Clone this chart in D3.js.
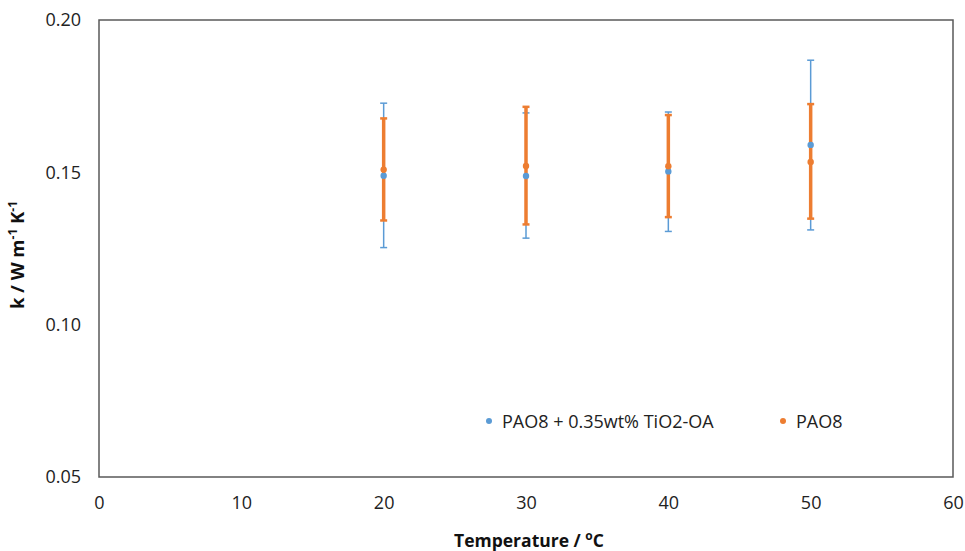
<!DOCTYPE html>
<html><head><meta charset="utf-8">
<script src="https://cdn.jsdelivr.net/npm/d3@7"></script>
<style>body{margin:0;background:#fff}svg{display:block}</style>
</head><body>
<svg id="c" width="965" height="551"></svg>
<script>
const temps = [20, 30, 40, 50];
const seriesNames = ["PAO8 + 0.35wt% TiO2-OA", "PAO8"];
const tioValues = [0.1489, 0.1488, 0.1503, 0.1590];
const tioUpper = [0.1727, 0.1695, 0.1698, 0.1868];
const tioLower = [0.1253, 0.1284, 0.1306, 0.1311];
const paoValues = [0.1509, 0.1521, 0.1520, 0.1534];
const paoUpper = [0.1677, 0.1715, 0.1688, 0.1724];
const paoLower = [0.1342, 0.1329, 0.1353, 0.1348];
const xTicks = [0, 10, 20, 30, 40, 50, 60];
const yTicks = [0.05, 0.10, 0.15, 0.20];

const svg = d3.select("#c");
const L = 99, R = 953, T = 20, B = 477;
const x = d3.scaleLinear().domain([0, 60]).range([L, R]);
const y = d3.scaleLinear().domain([0.05, 0.20]).range([B, T]);
const font = "'Open Sans', sans-serif";

const series = [
  {name: seriesNames[0], v: tioValues, hi: tioUpper, lo: tioLower, color: "#5B9BD5", w: 1.5, capW: 1.5},
  {name: seriesNames[1], v: paoValues, hi: paoUpper, lo: paoLower, color: "#ED7D31", w: 3.5, capW: 2.5}
];

// axes
const xAxis = d3.axisBottom(x).tickValues(xTicks).tickSize(0).tickPadding(19).tickFormat(d3.format("d"));
const gx = svg.append("g").attr("transform", `translate(0,${B})`).call(xAxis);
gx.select(".domain").remove();
gx.selectAll("text").attr("font-family", font).attr("font-size", 18).attr("fill", "#222");

const yAxis = d3.axisLeft(y).tickValues(yTicks).tickSize(0).tickPadding(18).tickFormat(d3.format(".2f"));
const gy = svg.append("g").attr("transform", `translate(${L},0)`).call(yAxis);
gy.select(".domain").remove();
gy.selectAll("text").attr("font-family", font).attr("font-size", 18).attr("fill", "#222");

// plot border
svg.append("rect").attr("x", x(0)).attr("y", y(0.20)).attr("width", x(60) - x(0)).attr("height", y(0.05) - y(0.20))
  .attr("fill", "none").attr("stroke", "#595959").attr("stroke-width", 1.5);

// error bars & points
series.forEach(s => {
  const g = svg.append("g");
  temps.forEach((t, i) => {
    const cx = x(t);
    g.append("line").attr("x1", cx).attr("x2", cx).attr("y1", y(s.hi[i])).attr("y2", y(s.lo[i]))
      .attr("stroke", s.color).attr("stroke-width", s.w);
    [s.hi[i], s.lo[i]].forEach(v => {
      g.append("line").attr("x1", cx - 3.5).attr("x2", cx + 3.5).attr("y1", y(v)).attr("y2", y(v))
        .attr("stroke", s.color).attr("stroke-width", s.capW);
    });
  });
});
series.forEach(s => {
  svg.append("g").selectAll("circle").data(temps).join("circle")
    .attr("cx", d => x(d)).attr("cy", (d, i) => y(s.v[i])).attr("r", 3.2).attr("fill", s.color);
});

// legend
const legX = [489, 783];
series.forEach((s, i) => {
  svg.append("circle").attr("cx", legX[i]).attr("cy", 421).attr("r", 3).attr("fill", s.color);
  svg.append("text").attr("x", legX[i] + 13).attr("y", 427.5).attr("font-family", font).attr("font-size", 18)
    .attr("fill", "#222").text(s.name);
});

// axis titles
const xt = svg.append("text").attr("x", 529).attr("y", 547).attr("text-anchor", "middle")
  .attr("font-family", font).attr("font-size", 17.5).attr("font-weight", "bold").attr("fill", "#111");
xt.append("tspan").text("Temperature / ");
xt.append("tspan").attr("dy", -7).attr("font-size", 12).text("o");
xt.append("tspan").attr("dy", 7).text("C");

const yt = svg.append("text").attr("transform", "translate(24,255) rotate(-90)").attr("text-anchor", "middle")
  .attr("font-family", font).attr("font-size", 18.5).attr("font-weight", "bold").attr("fill", "#111");
yt.append("tspan").text("k / W m");
yt.append("tspan").attr("dy", -7).attr("font-size", 12).text("-1");
yt.append("tspan").attr("dy", 7).text(" K");
yt.append("tspan").attr("dy", -7).attr("font-size", 12).text("-1");
</script>
</body></html>
